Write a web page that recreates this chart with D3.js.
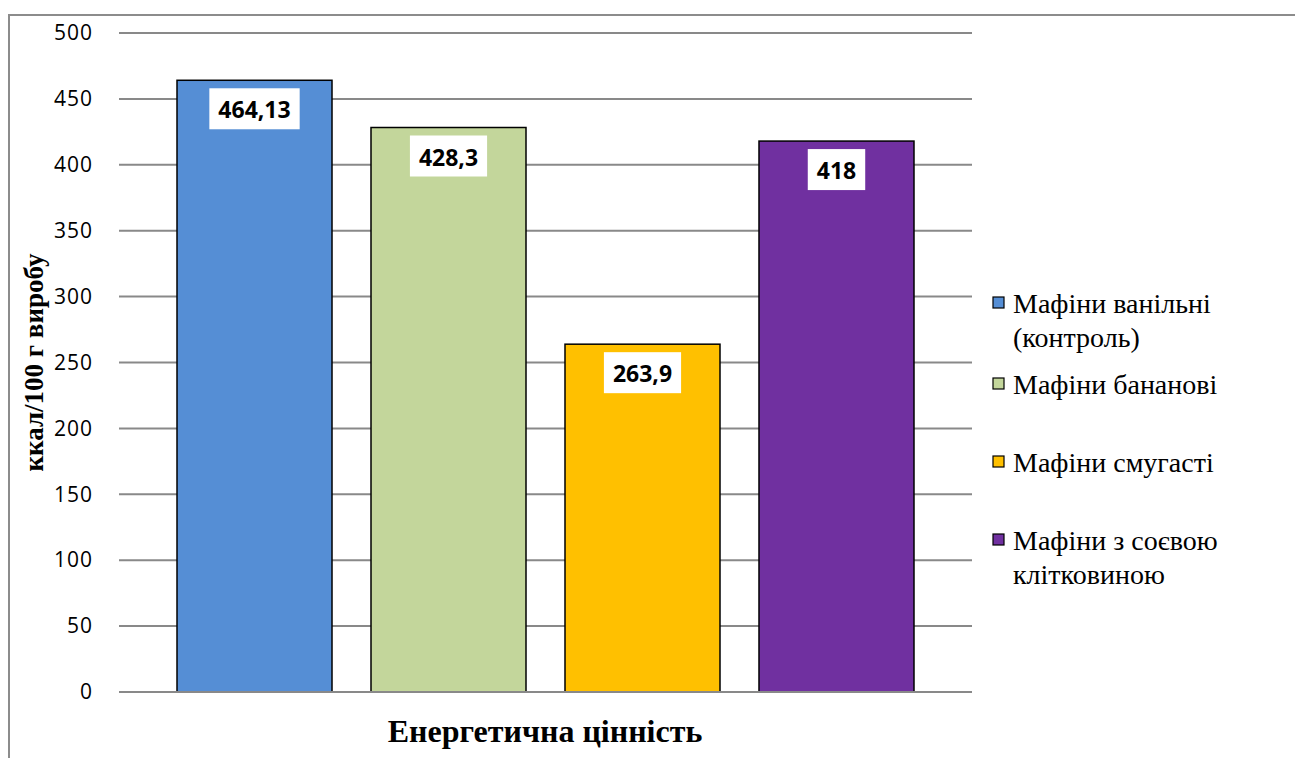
<!DOCTYPE html>
<html><head><meta charset="utf-8">
<script src="https://cdn.jsdelivr.net/npm/d3@7"></script>
<style>body{margin:0;background:#fff}svg{display:block}</style>
</head><body>
<script>
const categories = ["Мафіни ванільні (контроль)", "Мафіни бананові", "Мафіни смугасті", "Мафіни з соєвою клітковиною"];
const legendLines = [["Мафіни ванільні", "(контроль)"], ["Мафіни бананові"], ["Мафіни смугасті"], ["Мафіни з соєвою", "клітковиною"]];
const values = [464.13, 428.3, 263.9, 418];
const valueLabels = ["464,13", "428,3", "263,9", "418"];
const colors = ["#558ED5", "#C3D69B", "#FFC000", "#7030A0"];
const yTicks = [0, 50, 100, 150, 200, 250, 300, 350, 400, 450, 500];

const W = 1295, H = 758;
const svg = d3.select("body").append("svg").attr("width", W).attr("height", H);

svg.append("rect").attr("x", 9).attr("y", 15).attr("width", W + 20).attr("height", H + 20)
  .attr("fill", "#fff").attr("stroke", "#8c8c8c").attr("stroke-width", 2);

const x0 = 119, x1 = 972, yTop = 33, yBot = 692;
const x = d3.scaleBand().domain(categories).range([x0, x1]).paddingInner(0.201).paddingOuter(0.299);
const y = d3.scaleLinear().domain([0, 500]).range([yBot, yTop]);

const grid = svg.append("g");
grid.selectAll("line").data(yTicks).join("line")
  .attr("x1", x0).attr("x2", x1).attr("y1", d => y(d)).attr("y2", d => y(d))
  .attr("stroke", "#898989").attr("stroke-width", 2);

const yAxis = d3.axisLeft(y).tickValues(yTicks).tickSize(0).tickPadding(0).tickFormat(d3.format("d"));
const ga = svg.append("g").attr("transform", `translate(93,0)`).call(yAxis);
ga.select(".domain").remove();
ga.attr("font-size", null).attr("font-family", null);
ga.selectAll("text").attr("font-family", "'Open Sans', sans-serif").attr("font-size", 21)
  .attr("letter-spacing", 1).attr("fill", "#000");

svg.append("g").selectAll("rect").data(values).join("rect")
  .attr("x", (d, i) => x(categories[i])).attr("width", x.bandwidth())
  .attr("y", d => y(d)).attr("height", d => yBot - y(d))
  .attr("fill", (d, i) => colors[i]).attr("stroke", "#000").attr("stroke-width", 1.5);

svg.append("line").attr("x1", x0).attr("x2", x1).attr("y1", y(0)).attr("y2", y(0))
  .attr("stroke", "#898989").attr("stroke-width", 2);

const lbl = svg.append("g");
values.forEach((v, i) => {
  const cx = x(categories[i]) + x.bandwidth() / 2;
  const t = lbl.append("text").attr("x", cx).attr("y", y(v) + 29)
    .attr("text-anchor", "middle").attr("dominant-baseline", "central")
    .attr("font-family", "'Open Sans', sans-serif").attr("font-weight", "bold").attr("font-size", 23)
    .attr("fill", "#000").text(valueLabels[i]);
  const bb = t.node().getBBox();
  const pad = 9;
  lbl.insert("rect", "text").attr("x", cx - bb.width / 2 - pad).attr("width", bb.width + 2 * pad)
    .attr("y", y(v) + 8).attr("height", 41).attr("fill", "#fff");
});

svg.append("text").attr("transform", `translate(43,${(yTop + yBot) / 2}) rotate(-90)`)
  .attr("text-anchor", "middle").attr("font-family", "'Liberation Serif', 'Times New Roman', serif")
  .attr("font-weight", "bold").attr("font-size", 27).text("ккал/100 г виробу");

svg.append("text").attr("x", 545).attr("y", 742).attr("text-anchor", "middle")
  .attr("font-family", "'Liberation Serif', 'Times New Roman', serif")
  .attr("font-weight", "bold").attr("font-size", 32).text("Енергетична цінність");

const legY = [303, 384, 462, 540];
const leg = svg.append("g");
legendLines.forEach((lines, i) => {
  leg.append("rect").attr("x", 993).attr("y", legY[i] - 6).attr("width", 11).attr("height", 11)
    .attr("fill", colors[i]).attr("stroke", "#000").attr("stroke-width", 1.2);
  lines.forEach((s, j) => {
    leg.append("text").attr("x", 1013).attr("y", legY[i] + j * 34).attr("dominant-baseline", "central")
      .attr("font-family", "'Liberation Serif', 'Times New Roman', serif").attr("font-size", 28)
      .attr("fill", "#000").text(s);
  });
});
</script>
</body></html>
